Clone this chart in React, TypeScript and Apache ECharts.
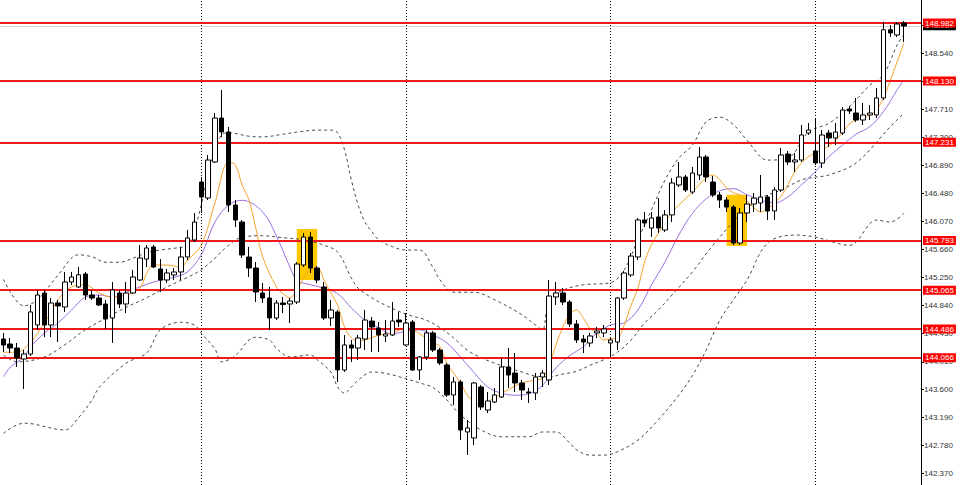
import React, { useEffect, useRef } from "react";
import * as echarts from "echarts";

const N_SLOTS = 135;
const categories: string[] = Array.from({ length: N_SLOTS }, (_, i) => "D" + (i + 1));

const OPEN = [144.344,144.271,144.212,144.051,144.124,144.550,145.019,144.550,144.873,144.814,145.181,145.108,145.298,144.990,144.946,144.858,144.653,145.019,144.858,145.019,145.210,145.518,145.695,145.372,145.210,145.284,145.328,145.548,145.797,146.648,146.414,146.942,147.587,147.382,146.311,146.061,145.548,145.386,145.019,144.946,144.653,144.873,144.858,144.887,145.430,145.841,145.386,145.108,144.653,144.741,143.890,144.257,144.212,144.344,144.608,144.506,144.388,144.403,144.623,144.257,144.594,143.890,144.080,144.433,144.183,143.963,143.523,143.714,142.980,142.892,143.640,143.302,143.420,143.493,143.934,143.845,143.699,143.567,143.552,143.787,143.743,144.961,145.020,144.887,144.565,144.344,144.286,144.433,144.433,144.286,144.300,144.946,145.284,145.548,146.091,145.973,146.135,145.944,146.165,146.604,146.721,146.501,146.751,147.015,146.648,146.458,146.384,146.281,145.753,146.193,146.325,146.340,146.428,146.223,146.531,147.059,146.942,146.971,147.367,147.104,146.927,147.367,147.294,147.367,147.720,147.661,147.558,147.632,147.632,147.881,148.882,148.806,148.981];
const CLOSE = [144.256,144.212,144.066,144.124,144.741,144.990,144.550,144.873,144.829,145.181,145.254,145.287,144.990,144.946,144.844,144.638,145.064,144.858,145.019,145.254,145.533,145.680,145.401,145.210,145.313,145.328,145.548,145.827,146.061,146.428,146.971,147.587,147.382,146.311,146.091,145.577,145.386,145.034,144.946,144.653,144.873,144.851,144.902,145.445,145.841,145.386,145.210,144.653,144.770,143.890,144.257,144.212,144.359,144.623,144.520,144.403,144.418,144.608,144.594,144.579,143.890,144.080,144.433,144.183,143.992,143.523,143.714,143.009,143.039,143.699,143.346,143.435,143.523,143.934,143.816,143.699,143.596,143.552,143.787,143.845,144.975,145.020,144.887,144.565,144.330,144.300,144.389,144.462,144.491,144.330,144.946,145.313,145.562,146.091,146.047,146.120,145.973,146.165,146.634,146.721,146.531,146.780,147.015,146.722,146.458,146.384,146.281,145.753,146.193,146.325,146.413,146.428,146.223,146.531,147.045,146.942,146.971,147.338,147.411,146.928,147.338,147.294,147.382,147.705,147.690,147.558,147.632,147.661,147.881,148.882,148.836,148.967,148.937];
const LOW = [144.154,144.139,143.934,143.611,144.095,144.477,144.374,144.374,144.300,144.741,145.137,145.093,144.917,144.917,144.829,144.491,144.286,144.799,144.726,145.005,145.196,145.401,145.386,145.034,145.166,145.210,145.210,145.504,145.768,146.193,146.384,146.927,147.309,146.208,145.988,145.533,145.254,144.887,144.873,144.477,144.623,144.726,144.579,144.858,145.401,145.313,145.166,144.623,144.535,143.713,143.860,144.007,144.036,144.183,144.154,144.154,144.300,144.388,144.520,144.242,143.875,143.743,144.036,144.154,143.963,143.493,143.376,142.863,142.642,142.788,143.302,143.259,143.406,143.479,143.625,143.567,143.449,143.406,143.449,143.640,143.669,144.844,144.844,144.521,144.286,144.139,144.227,144.359,144.374,144.080,144.183,144.917,145.254,145.504,145.988,145.841,145.900,145.915,146.061,146.575,146.501,146.473,146.678,146.648,146.428,146.267,146.208,145.724,145.724,146.061,146.208,146.208,146.091,146.091,146.502,146.898,146.795,146.942,147.338,146.898,146.854,147.162,147.191,147.338,147.646,147.529,147.485,147.558,147.587,147.852,148.776,148.776,148.702];
const HIGH = [144.433,144.359,144.286,144.183,144.844,145.064,145.064,144.946,144.917,145.328,145.328,145.401,145.328,145.064,144.990,144.917,145.181,145.064,145.181,145.357,145.724,145.724,145.724,145.518,145.372,145.386,145.695,145.944,146.193,146.722,147.045,147.661,148.000,147.455,146.384,146.091,145.695,145.474,145.166,145.108,144.917,144.961,144.946,145.474,145.900,145.915,145.416,145.181,144.917,144.770,144.403,144.330,144.403,144.770,144.667,144.594,144.623,144.887,144.741,144.726,144.623,144.095,144.476,144.462,144.212,143.992,143.787,143.743,143.156,143.713,143.669,143.567,143.626,144.066,144.212,144.139,143.743,143.626,143.845,143.889,145.210,145.181,145.093,144.917,144.623,144.403,144.433,144.521,144.550,144.374,144.961,145.342,145.606,146.120,146.208,146.208,146.413,146.237,146.707,146.942,146.751,146.868,147.162,147.045,146.736,146.502,146.428,146.311,146.267,146.458,146.487,146.751,146.458,146.575,147.147,147.103,147.074,147.485,147.514,147.587,147.411,147.411,147.514,147.749,147.764,147.881,147.808,147.778,148.028,148.998,148.952,148.996,149.011];

const MA_FAST: [number, number][] = [[0,144.15],[2,144.15],[4,144.30],[5,144.43],[7,144.74],[8,144.92],[10,145.11],[12,145.14],[14,145.02],[16,144.96],[18,144.99],[20,145.09],[21,145.31],[22,145.43],[24,145.43],[26,145.40],[27,145.50],[29,145.72],[31,146.34],[33,146.94],[34,146.90],[35,146.60],[36,146.38],[37,145.97],[38,145.55],[40,145.11],[41,145.01],[42,144.95],[43,145.06],[44,145.24],[45,145.36],[46,145.39],[47,145.21],[48,145.02],[49,144.84],[50,144.52],[51,144.36],[52,144.32],[53,144.33],[55,144.40],[57,144.43],[59,144.51],[61,144.42],[63,144.29],[64,144.23],[65,143.99],[67,143.70],[68,143.52],[69,143.42],[70,143.38],[72,143.49],[74,143.60],[76,143.70],[78,143.74],[79,143.77],[80,143.96],[81,144.26],[82,144.52],[83,144.70],[84,144.77],[85,144.65],[86,144.50],[87,144.43],[88,144.33],[89,144.35],[90,144.36],[91,144.55],[92,144.84],[93,145.09],[94,145.48],[95,145.73],[96,145.90],[97,146.06],[98,146.21],[99,146.31],[101,146.50],[103,146.71],[104,146.75],[105,146.68],[106,146.56],[107,146.49],[108,146.46],[109,146.37],[110,146.27],[111,146.21],[112,146.25],[113,146.34],[114,146.44],[115,146.61],[116,146.80],[117,146.93],[118,147.02],[119,147.07],[120,147.12],[121,147.18],[122,147.26],[123,147.38],[124,147.50],[125,147.56],[126,147.60],[127,147.63],[128,147.71],[129,147.88],[130,148.14],[131,148.41],[132,148.69]];

const MA_SLOW: [number, number][] = [[0,143.79],[1,143.93],[3,144.08],[4,144.23],[6,144.43],[8,144.58],[10,144.77],[12,144.96],[14,144.99],[16,144.96],[18,145.03],[20,145.11],[22,145.18],[25,145.25],[27,145.33],[29,145.58],[31,146.06],[33,146.31],[35,146.38],[38,146.21],[40,145.86],[42,145.40],[43,145.21],[45,145.14],[47,145.09],[49,145.01],[51,144.80],[53,144.62],[55,144.51],[57,144.42],[59,144.46],[61,144.48],[63,144.40],[65,144.29],[67,144.08],[69,143.85],[71,143.64],[73,143.55],[75,143.52],[77,143.54],[79,143.66],[81,143.92],[83,144.10],[85,144.23],[87,144.43],[89,144.55],[91,144.58],[93,144.77],[95,145.14],[97,145.48],[99,145.87],[101,146.19],[103,146.40],[105,146.52],[107,146.55],[109,146.46],[111,146.38],[113,146.34],[115,146.43],[117,146.61],[119,146.80],[121,147.02],[123,147.19],[125,147.35],[127,147.46],[129,147.68],[131,148.00],[132,148.15]];

const BB_UPPER: [number, number][] = [[0,145.22],[3,144.83],[5,144.92],[8,145.28],[11,145.58],[13,145.55],[15,145.47],[17,145.47],[19,145.53],[21,145.61],[23,145.65],[26,145.69],[27,145.72],[28,145.94],[29,146.31],[30,146.75],[31,147.12],[32,147.34],[33,147.37],[36,147.32],[38,147.31],[41,147.35],[43,147.38],[46,147.41],[48,147.41],[49,147.37],[50,147.12],[51,146.68],[52,146.31],[53,146.06],[54,145.92],[55,145.80],[57,145.70],[59,145.65],[61,145.65],[63,145.39],[64,145.21],[66,145.03],[69,145.03],[72,144.92],[76,144.70],[78,144.55],[79,144.48],[80,144.92],[82,145.06],[85,145.14],[89,145.17],[91,145.36],[93,145.80],[95,146.24],[97,146.68],[99,147.00],[101,147.19],[103,147.53],[105,147.60],[107,147.49],[109,147.26],[112,146.97],[115,147.00],[118,147.38],[121,147.51],[124,147.75],[127,148.07],[129,148.22],[131,148.66],[132,148.81]];

const BB_MID: [number, number][] = [[0,144.11],[2,144.01],[6,144.08],[9,144.26],[12,144.48],[15,144.65],[18,144.81],[21,144.95],[24,145.11],[27,145.25],[29,145.36],[31,145.53],[33,145.72],[35,145.84],[38,145.86],[41,145.83],[44,145.80],[47,145.72],[49,145.62],[51,145.24],[52,145.09],[54,144.95],[56,144.84],[59,144.71],[62,144.62],[64,144.51],[66,144.36],[68,144.18],[70,144.07],[72,143.99],[74,143.92],[76,143.86],[78,143.80],[80,143.79],[82,143.83],[84,143.87],[86,143.96],[88,144.04],[90,144.15],[92,144.33],[94,144.58],[96,144.77],[98,144.99],[101,145.33],[104,145.72],[108,146.17],[111,146.41],[114,146.53],[117,146.68],[119,146.72],[121,146.75],[125,146.93],[130,147.46],[132,147.66]];

const BB_LOWER: [number, number][] = [[0,142.96],[3,143.11],[9,143.01],[11,143.19],[13,143.45],[14,143.63],[18,143.99],[21,144.14],[23,144.48],[26,144.59],[28,144.55],[29,144.43],[31,144.20],[32,144.01],[34,144.10],[36,144.33],[37,144.37],[39,144.33],[40,144.21],[42,144.08],[45,144.11],[46,144.04],[48,143.86],[49,143.64],[50,143.55],[51,143.64],[52,143.74],[54,143.86],[56,143.84],[58,143.79],[61,143.70],[63,143.63],[65,143.45],[67,143.23],[70,143.01],[73,142.91],[77,142.91],[79,142.98],[81,142.98],[83,142.82],[84,142.72],[86,142.64],[88,142.64],[90,142.69],[93,142.86],[96,143.16],[99,143.52],[101,143.81],[103,144.18],[105,144.62],[107,144.92],[109,145.21],[112,145.75],[116,145.87],[119,145.84],[124,145.72],[128,146.09],[130,146.06],[132,146.19]];

const LEVELS = [148.982, 148.130, 147.231, 145.793, 145.065, 144.486, 144.066];
const BID = 148.937;
const TICKS = [142.37, 142.78, 143.19, 143.6, 144.01, 144.43, 144.84, 145.25, 145.66, 146.07, 146.48, 146.89, 147.3, 147.71, 148.13, 148.54, 148.95];
const SEPARATORS = [29, 59, 89, 119];
const HIGHLIGHTS: [number, number, number, number][] = [
  [43, 46, 145.21, 145.96],
  [106, 109, 145.71, 146.46],
];
const Y_MIN = 142.202;
const Y_MAX = 149.319;

export default function App() {
  const ref = useRef<HTMLDivElement>(null);
  useEffect(() => {
    if (!ref.current) return;
    const chart = echarts.init(ref.current, undefined, { renderer: "svg" });
    const candleData = OPEN.map((o, i) => [o, CLOSE[i], LOW[i], HIGH[i]]);
    const band = (name: string, data: [number, number][]) => ({
      name,
      type: "line",
      data,
      showSymbol: false,
      smooth: 0.35,
      z: 3,
      lineStyle: { color: "#4a4a4a", width: 1, type: [3, 3] },
      silent: true,
    });
    const redLabel = (v: number, bg: string) => ({
      show: true,
      position: "end",
      distance: 2,
      formatter: () => v.toFixed(3),
      backgroundColor: bg,
      color: "#fff",
      fontSize: 8,
      fontFamily: "Liberation Sans",
      padding: [1, 2, 0, 2],
    });
    chart.setOption({
      animation: false,
      backgroundColor: "#ffffff",
      grid: { left: 0, right: 39, top: 0, bottom: 0, containLabel: false },
      xAxis: {
        type: "category",
        data: categories,
        boundaryGap: true,
        axisLine: { show: false },
        axisTick: { show: false },
        axisLabel: { show: false },
        splitLine: { show: false },
      },
      yAxis: {
        type: "value",
        position: "right",
        min: Y_MIN,
        max: Y_MAX,
        splitLine: { show: false },
        axisLine: { show: true, lineStyle: { color: "#000", width: 1 } },
        axisTick: {
          show: true,
          inside: false,
          length: 3,
          customValues: TICKS,
          lineStyle: { color: "#000" },
        },
        axisLabel: {
          show: true,
          customValues: TICKS,
          margin: 3,
          color: "#333",
          fontSize: 8,
          fontFamily: "Liberation Sans",
          formatter: (v: number) => v.toFixed(3),
        },
      },
      series: [
        {
          name: "marks",
          type: "line",
          data: [],
          z: 1,
          silent: true,
          markArea: {
            silent: true,
            itemStyle: { color: "#ffc800", opacity: 1 },
            data: HIGHLIGHTS.map(([a, b, lo, hi]) => [
              { xAxis: categories[a], yAxis: lo },
              { xAxis: categories[b], yAxis: hi },
            ]),
          },
          markLine: {
            silent: true,
            symbol: "none",
            label: { show: false },
            lineStyle: { color: "#000", width: 1, type: [1, 2] },
            data: SEPARATORS.map((i) => ({ xAxis: categories[i] })),
          },
        },
        band("BB upper", BB_UPPER),
        band("BB middle", BB_MID),
        band("BB lower", BB_LOWER),
        {
          name: "MA slow",
          type: "line",
          data: MA_SLOW,
          showSymbol: false,
          smooth: 0.35,
          z: 4,
          silent: true,
          lineStyle: { color: "#9b6fe0", width: 1 },
        },
        {
          name: "MA fast",
          type: "line",
          data: MA_FAST,
          showSymbol: false,
          smooth: 0.35,
          z: 4,
          silent: true,
          lineStyle: { color: "#f5a32c", width: 1 },
        },
        {
          name: "price",
          type: "candlestick",
          data: candleData,
          barWidth: 5,
          z: 5,
          silent: true,
          itemStyle: {
            color: "#ffffff",
            color0: "#000000",
            borderColor: "#000000",
            borderColor0: "#000000",
            borderWidth: 1,
          },
          markLine: {
            silent: true,
            symbol: "none",
            data: [
              {
                yAxis: BID,
                lineStyle: { color: "#d4d4d4", width: 1, type: "solid" },
                label: redLabel(BID, "#000"),
              },
              ...LEVELS.map((v) => ({
                yAxis: v,
                lineStyle: { color: "#f01818", width: 2, type: "solid" },
                label: redLabel(v, "#ff0000"),
              })),
            ],
          },
        },
      ],
    });
    return () => chart.dispose();
  }, []);
  return (
    <div
      ref={ref}
      style={{ position: "absolute", left: 0, top: 0, width: 960, height: 485, background: "#fff" }}
    />
  );
}
